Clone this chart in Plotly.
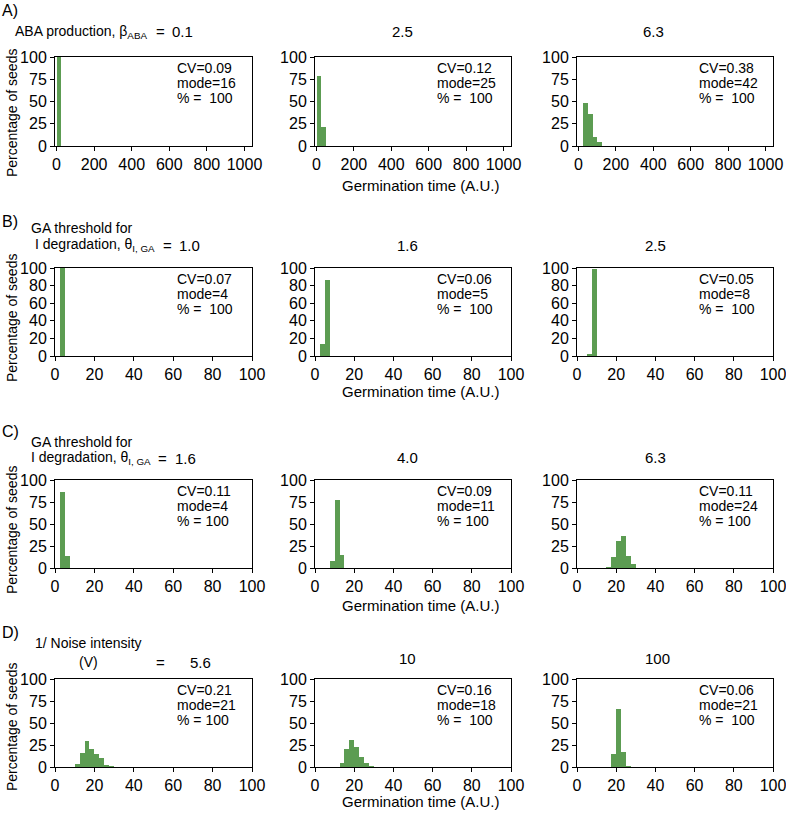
import plotly.graph_objects as go

W, H = 786, 814
GREEN = "rgb(92,156,82)"
FONT = "Liberation Sans, Arial, sans-serif"

# ---- data ----
# row A: ABA production
a_params = ["0.1", "2.5", "6.3"]
a_cv = ["0.09", "0.12", "0.38"]
a_mode = [16, 25, 42]
a_pct_txt = ["%\u00a0=\u00a0\u00a0100"] * 3
a_left = [[0], [0, 25], [25, 50, 75, 100]]
a_pct = [[100], [79, 21], [48, 36, 10, 4]]
a_binw = 25

# row B: GA threshold for I degradation
b_params = ["1.0", "1.6", "2.5"]
b_cv = ["0.07", "0.06", "0.05"]
b_mode = [4, 5, 8]
b_pct_txt = ["%\u00a0=\u00a0\u00a0100"] * 3
b_left = [[2.5], [2.5, 5], [5, 7.5]]
b_pct = [[100], [14, 86], [1.5, 98.5]]
b_binw = 2.5

# row C: GA threshold for I degradation
c_params = ["1.6", "4.0", "6.3"]
c_cv = ["0.11", "0.09", "0.11"]
c_mode = [4, 11, 24]
c_pct_txt = ["%\u00a0=\u00a0100"] * 3
c_left = [[2.5, 5], [7.5, 10, 12.5], [15, 17.5, 20, 22.5, 25, 27.5]]
c_pct = [[86, 14], [8, 77, 15], [1, 13, 31, 36, 14, 4]]
c_binw = 2.5

# row D: 1/ noise intensity
d_params = ["5.6", "10", "100"]
d_cv = ["0.21", "0.16", "0.06"]
d_mode = [21, 18, 21]
d_pct_txt = ["%\u00a0=\u00a0100", "%\u00a0=\u00a0\u00a0100", "%\u00a0=\u00a0\u00a0100"]
d_left = [[10, 12.5, 15, 17.5, 20, 22.5, 25, 27.5],
          [12.5, 15, 17.5, 20, 22.5, 25, 27.5],
          [17.5, 20, 22.5, 25]]
d_pct = [[3, 16, 29, 20, 15, 10, 2, 1],
         [5, 20, 31, 23, 11, 5, 1],
         [15, 66, 17, 1]]
d_binw = 2.5

rows = [
    dict(left=a_left, pct=a_pct, binw=a_binw, cv=a_cv, mode=a_mode, ptxt=a_pct_txt,
         xr=[-8, 1040], xt=[0, 200, 400, 600, 800, 1000], yt=[0, 25, 50, 75, 100]),
    dict(left=b_left, pct=b_pct, binw=b_binw, cv=b_cv, mode=b_mode, ptxt=b_pct_txt,
         xr=[0, 100], xt=[0, 20, 40, 60, 80, 100], yt=[0, 20, 40, 60, 80, 100]),
    dict(left=c_left, pct=c_pct, binw=c_binw, cv=c_cv, mode=c_mode, ptxt=c_pct_txt,
         xr=[0, 100], xt=[0, 20, 40, 60, 80, 100], yt=[0, 25, 50, 75, 100]),
    dict(left=d_left, pct=d_pct, binw=d_binw, cv=d_cv, mode=d_mode, ptxt=d_pct_txt,
         xr=[0, 100], xt=[0, 20, 40, 60, 80, 100], yt=[0, 25, 50, 75, 100]),
]

# panel boxes in pixels
col_px = [(55, 252), (315, 511), (577, 773)]
row_px = [(57, 146), (268, 356), (480, 568), (679, 767)]


def px(x, y):
    return x / W, 1 - y / H


fig = go.Figure()
annotations = []


def text(x, y, s, size=14, xanchor="center", **kw):
    xx, yy = px(x, y)
    annotations.append(dict(x=xx, y=yy, xref="paper", yref="paper", text=s,
                            showarrow=False, xanchor=xanchor, yanchor="middle",
                            font=dict(size=size, color="black", family=FONT), **kw))


n = 0
for r, row in enumerate(rows):
    for c in range(3):
        n += 1
        sfx = "" if n == 1 else str(n)
        left = row["left"][c]
        fig.add_trace(go.Bar(
            x=[v + row["binw"] / 2 for v in left], y=row["pct"][c],
            width=row["binw"], marker=dict(color=GREEN, line=dict(width=0)),
            xaxis="x" + sfx, yaxis="y" + sfx, showlegend=False,
        ))
        x0, x1 = col_px[c]
        y0, y1 = row_px[r]
        axstyle = dict(showline=True, linecolor="black", linewidth=1, mirror=True,
                       ticks="outside", ticklen=4, tickcolor="black", showgrid=False,
                       zeroline=False, automargin=False, ticklabeloverflow="allow",
                       tickfont=dict(size=16, color="black", family=FONT))
        fig.layout["xaxis" + sfx] = dict(domain=[x0 / W, x1 / W], anchor="y" + sfx,
                                         range=row["xr"], tickvals=row["xt"], **axstyle)
        fig.layout["yaxis" + sfx] = dict(domain=[1 - y1 / H, 1 - y0 / H], anchor="x" + sfx,
                                         range=[0, 100], tickvals=row["yt"], **axstyle)
        # stats text
        lines = ["CV=" + row["cv"][c], "mode=" + str(row["mode"][c]), row["ptxt"][c]]
        tx = x0 + 0.61 * (x1 - x0)
        for k, s in enumerate(lines):
            text(tx, y0 + 11 + 15 * k, s, size=14, xanchor="left")

# panel letters
for s, y in zip(["A)", "B)", "C)", "D)"], [10, 222, 432, 632]):
    text(0, y, s, size=16, xanchor="left")

# y-axis titles
for y in [113, 318, 530, 727]:
    text(12, y, "Percentage of seeds", size=14, textangle=-90)

# x-axis titles
for y in [185, 391, 605, 801]:
    text(421, y, "Germination time (A.U.)", size=15)

# row headers
text(13, 32, "ABA production, β<sub>ABA</sub>", size=14, xanchor="left")
text(160, 32, "=", size=15)
text(182, 32, a_params[0], size=15)
text(403, 32, a_params[1], size=15)
text(653, 32, a_params[2], size=15)

text(29, 228, "GA threshold for", size=14, xanchor="left")
text(33, 245, "I degradation, θ<sub>I, GA</sub>", size=14, xanchor="left")
text(167, 245, "=", size=15)
text(189, 245, b_params[0], size=15)
text(407, 245, b_params[1], size=15)
text(655, 245, b_params[2], size=15)

text(29, 442, "GA threshold for", size=14, xanchor="left")
text(29, 458, "I degradation, θ<sub>I, GA</sub>", size=14, xanchor="left")
text(162, 458, "=", size=15)
text(185, 458, c_params[0], size=15)
text(407, 457, c_params[1], size=15)
text(655, 457, c_params[2], size=15)

text(33, 643, "1/ Noise intensity", size=14, xanchor="left")
text(88, 662, "(V)", size=14)
text(160, 662, "=", size=15)
text(200, 662, d_params[0], size=15)
text(407, 658, d_params[1], size=15)
text(657, 658, d_params[2], size=15)

fig.update_layout(
    width=W, height=H, margin=dict(l=0, r=0, t=0, b=0, autoexpand=False),
    paper_bgcolor="white", plot_bgcolor="white", bargap=0,
    annotations=annotations, font=dict(family=FONT, color="black"),
)

# drop the default page margin so the figure fills the window exactly
fig.write_html("out.html", config={"displayModeBar": False},
               post_script="document.body.style.margin='0px';")
